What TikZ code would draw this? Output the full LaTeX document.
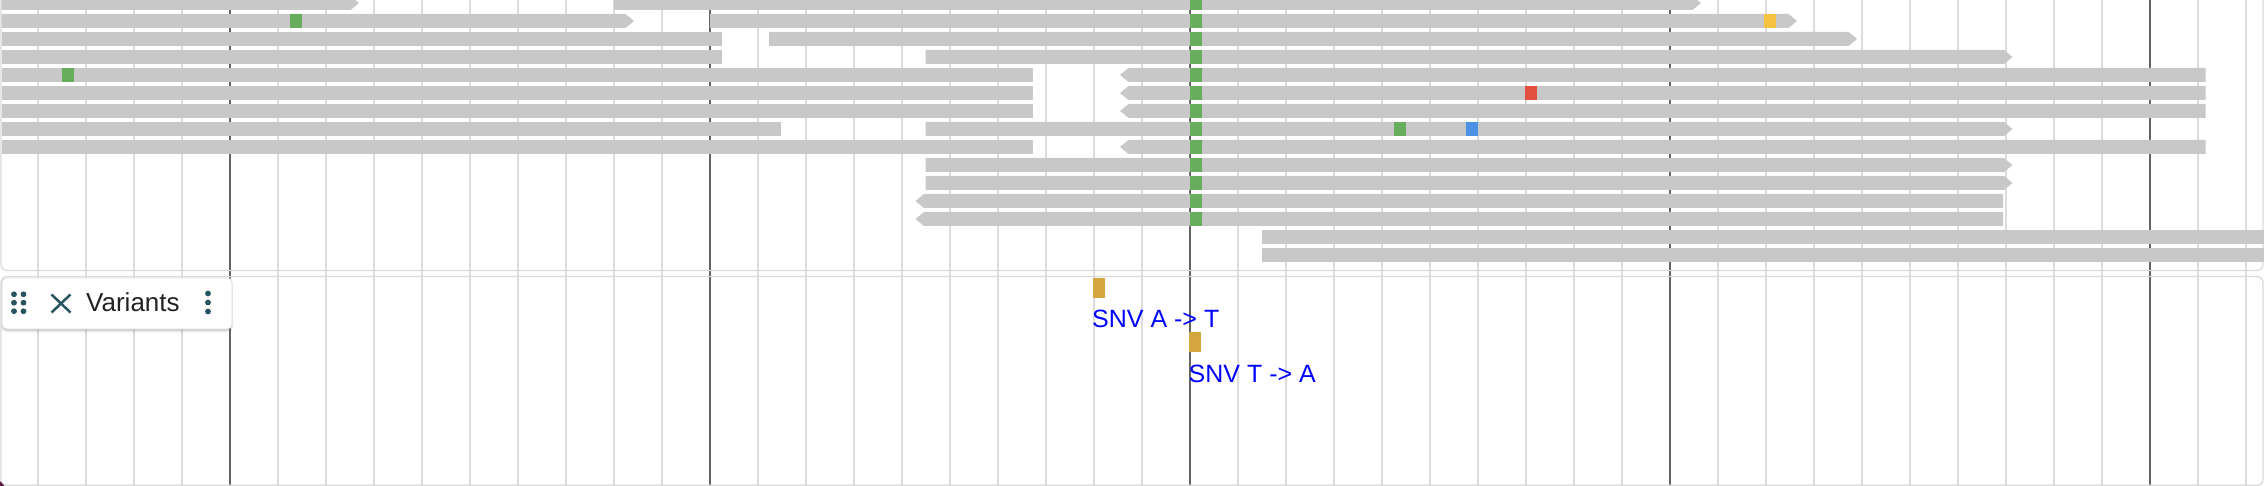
\documentclass[tikz,border=0pt]{standalone}
\usepackage{fontspec}
\setmainfont{Liberation Sans}
\definecolor{readgray}{RGB}{200,200,200}
\definecolor{gridlight}{RGB}{220,220,220}
\definecolor{griddark}{RGB}{100,100,100}
\definecolor{mmgreen}{RGB}{104,172,94}
\definecolor{mmred}{RGB}{226,80,64}
\definecolor{mmyellow}{RGB}{246,194,66}
\definecolor{mmblue}{RGB}{76,146,228}
\definecolor{snvgold}{RGB}{212,167,62}
\definecolor{icondark}{RGB}{40,84,96}
\definecolor{panelline}{RGB}{218,218,218}
\definecolor{cornerpurple}{RGB}{90,26,74}
\newcommand\fwdread[3]{\fill[readgray] (#2,#1) -- ({#3-8.5},#1) -- (#3,{#1+7}) -- ({#3-8.5},{#1+14}) -- (#2,{#1+14}) -- cycle;}
\newcommand\revread[3]{\fill[readgray] (#2,{#1+7}) -- ({#2+8.5},#1) -- (#3,#1) -- (#3,{#1+14}) -- ({#2+8.5},{#1+14}) -- cycle;}
\newcommand\bluntread[3]{\fill[readgray] (#2,#1) rectangle (#3,{#1+14});}
\newcommand\mismatch[3]{\fill[#3] (#2,#1) rectangle ({#2+12},{#1+14});}
\tikzset{
  lightgrid/.style={draw=gridlight, line width=1.3pt},
  darkgrid/.style={draw=griddark, line width=2pt},
  panel/.style={draw=panelline, line width=1.3pt, rounded corners=6pt},
  snvbox/.style={fill=snvgold},
  snvlabel/.style={anchor=base west, inner sep=0pt, text=blue, font=\fontsize{25}{28}\selectfont},
  icondot/.style={fill=icondark},
}
\begin{document}
\begin{tikzpicture}[x=1pt,y=-1pt]
\useasboundingbox (0,0) rectangle (2264,486);
\clip (0,0) rectangle (2264,486);
\fill[white] (0,0) rectangle (2264,486);
% grid
\foreach \k in {0,...,46} {
  \draw[lightgrid] ({38+48*\k},0) -- ({38+48*\k},486);
}
\foreach \gx in {230,710,1190,1670,2150} {
  \draw[darkgrid] (\gx,0) -- (\gx,486);
}
% panels
\draw[panel] (1,-20) rectangle (2263,270.5);
\draw[panel] (1,276.5) rectangle (2263,485.3);
% reads
\fwdread{-4}{1.5}{359}
\fwdread{-4}{614}{1701}
\fwdread{14}{1.5}{634}
\fwdread{14}{710}{1797}
\bluntread{32}{1.5}{721.5}
\fwdread{32}{769}{1857}
\bluntread{50}{1.5}{721.5}
\fwdread{50}{925.7}{2012.5}
\bluntread{68}{1.5}{1033}
\revread{68}{1120}{2205.5}
\bluntread{86}{1.5}{1033}
\revread{86}{1120}{2205.5}
\bluntread{104}{1.5}{1033}
\revread{104}{1120}{2205.5}
\bluntread{122}{1.5}{781}
\fwdread{122}{925.7}{2012.5}
\bluntread{140}{1.5}{1033}
\revread{140}{1120}{2205.5}
\fwdread{158}{925.7}{2012.5}
\fwdread{176}{925.7}{2012.5}
\revread{194}{915.5}{2003}
\revread{212}{915.5}{2003}
\bluntread{230}{1261.7}{2270}
\bluntread{248}{1261.7}{2270}
% mismatches
\foreach \t in {-4,14,...,212} { \mismatch{\t}{1190}{mmgreen} }
\mismatch{14}{290}{mmgreen}
\mismatch{14}{1764}{mmyellow}
\mismatch{68}{62}{mmgreen}
\mismatch{86}{1525}{mmred}
\mismatch{122}{1394}{mmgreen}
\mismatch{122}{1466}{mmblue}
% variants
\fill[snvbox] (1093,278) rectangle (1105,297.7);
\node[snvlabel] (snv1) at (1092,327.7) {SNV A -> T};
\fill[snvbox] (1189,332) rectangle (1201,351.7);
\node[snvlabel] (snv2) at (1188.5,382) {SNV T -> A};
% Variants track label box
\fill[black, opacity=0.06, rounded corners=5pt] (1,279) rectangle (233,332.5);
\fill[black, opacity=0.12, rounded corners=5pt] (2,279) rectangle (232,330.8);
\filldraw[fill=white, draw=panelline, line width=0.8pt, rounded corners=4.5pt] (2,278) rectangle (232,329);
\foreach \dx in {14,23.5} { \foreach \dy in {294.3,302.7,311.2} { \fill[icondot] (\dx,\dy) circle (2.9); } }
\draw[icondark, line width=2.5pt] (51.5,294.5) -- (70.5,312.5);
\draw[icondark, line width=2.5pt] (70.5,294.5) -- (51.5,312.5);
\node[anchor=base west, inner sep=0pt, text={rgb,255:red,34;green,34;blue,34}, font=\fontsize{26}{30}\selectfont] (vlabel) at (86,311) {Variants};
\foreach \dy in {293.5,302.5,311.5} { \fill[icondot] (208,\dy) circle (2.9); }
% corner mark
\fill[cornerpurple] (0,481) -- (4.5,486) -- (0,486) -- cycle;
% right-edge fade
\foreach \i in {0,...,64} {
  \fill[black, opacity=0.0016] ({2199+\i},0) rectangle (2264,486);
}
\end{tikzpicture}
\end{document}
